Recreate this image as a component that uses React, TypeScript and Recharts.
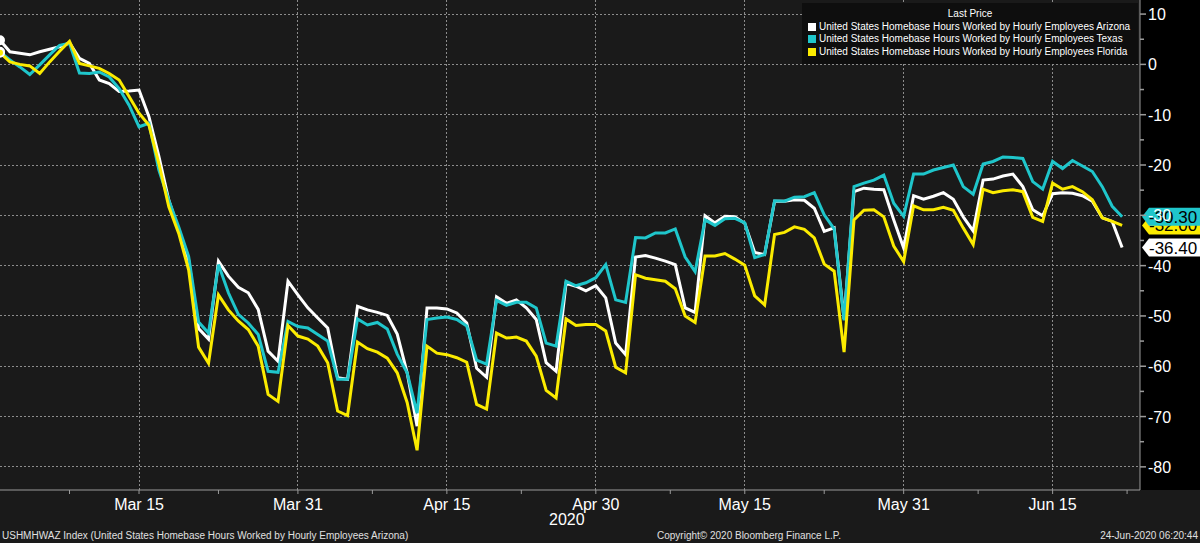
import React from 'react';
import {
  LineChart,
  Line,
  XAxis,
  YAxis,
  CartesianGrid,
  ReferenceDot,
  Legend,
} from 'recharts';

// daily values, Mar 1 2020 (day 0) .. Jun 22 2020 (day 113)
const arizona = [
  4.8, 2.5, 2.2, 1.9, 2.5, 3.0, 3.5, 4.3, 1.2, 0.2,
  -3.1, -3.8, -5.4, -5.3, -5.1, -10.4, -18.3, -27.0, -33.0, -38.9,
  -52.5, -54.6, -39.1, -42.1, -44.3, -45.4, -48.7, -57.0, -59.0, -43.1,
  -45.8, -48.4, -50.4, -52.4, -62.3, -62.6, -48.1, -48.8, -49.3, -49.9,
  -53.6, -61.3, -71.9, -48.4, -48.4, -48.6, -49.4, -51.4, -60.4, -62.2,
  -46.2, -47.5, -46.8, -48.4, -50.7, -59.3, -61.0, -43.5, -44.1, -45.0,
  -44.0, -46.4, -55.4, -57.7, -38.3, -38.0, -38.5, -39.1, -39.8, -48.4,
  -49.3, -30.1, -31.5, -30.2, -30.3, -31.6, -37.4, -37.8, -27.2, -27.2,
  -26.9, -27.0, -28.6, -33.2, -32.5, -50.6, -25.3, -24.6, -24.8, -24.9,
  -30.9, -36.5, -26.1, -26.8, -26.2, -25.5, -26.8, -30.3, -33.1, -23.0,
  -22.8, -22.2, -21.8, -24.3, -28.9, -30.1, -25.7, -25.5, -25.6, -26.1,
  -27.2, -30.5, -31.2, -36.4,
];

const texas = [
  2.5, 0.9, -0.5, -2.0, -0.1, 1.9, 3.8, 4.2, -1.7, -1.8,
  -1.5, -2.5, -4.8, -8.1, -12.4, -11.7, -21.0, -27.0, -32.3, -38.2,
  -51.2, -53.4, -39.8, -45.4, -49.7, -51.4, -53.7, -61.0, -61.2, -51.1,
  -52.1, -52.4, -53.7, -55.0, -62.6, -62.6, -50.6, -51.8, -51.3, -52.6,
  -57.6, -61.3, -69.3, -50.7, -50.4, -50.2, -50.7, -52.0, -58.8, -59.6,
  -46.9, -47.9, -47.3, -47.3, -48.4, -55.4, -56.0, -43.1, -44.0, -43.4,
  -42.4, -39.8, -46.8, -47.3, -34.4, -34.5, -33.5, -33.5, -32.7, -38.3,
  -41.2, -30.9, -32.0, -30.7, -30.6, -31.5, -38.4, -37.8, -27.1, -27.2,
  -26.4, -26.3, -25.5, -29.9, -32.7, -50.9, -24.3, -23.6, -23.0, -22.0,
  -27.6, -30.2, -21.8, -21.8, -21.0, -20.5, -20.0, -24.3, -25.8, -19.8,
  -19.3, -18.4, -18.5, -18.7, -23.3, -24.8, -19.3, -20.7, -19.1, -20.2,
  -21.3, -24.3, -28.2, -30.3,
];

const florida = [
  2.3, 0.5, 0.0, -0.3, -1.8, 0.5, 2.6, 4.6, 0.2, -0.3,
  -0.8, -1.8, -3.1, -6.4, -9.7, -12.1, -19.7, -28.3, -33.6, -40.9,
  -56.2, -59.4, -45.8, -48.8, -51.0, -52.7, -56.0, -65.6, -67.0, -51.9,
  -54.0, -54.6, -56.0, -59.3, -68.9, -69.8, -55.2, -56.5, -57.2, -58.4,
  -61.3, -67.2, -76.7, -56.0, -57.4, -57.7, -58.3, -59.2, -67.6, -68.5,
  -53.4, -54.4, -54.2, -55.0, -58.0, -64.8, -66.3, -50.6, -51.9, -51.7,
  -51.7, -53.0, -60.2, -61.3, -41.8, -42.5, -42.8, -43.1, -44.6, -50.0,
  -51.3, -38.1, -38.1, -37.6, -38.7, -39.9, -46.0, -47.8, -33.8, -33.4,
  -32.3, -32.8, -34.5, -39.7, -41.1, -57.2, -30.9, -29.0, -28.9, -30.3,
  -36.1, -39.2, -28.1, -28.9, -28.9, -28.4, -29.0, -32.5, -35.8, -24.8,
  -25.5, -25.1, -24.9, -25.3, -30.4, -31.2, -23.6, -24.8, -24.3, -25.3,
  -26.9, -30.5, -31.2, -32.0,
];

const xMajorDays = [14, 30, 45, 60, 75, 91, 106];
const xMajorLabels = ['Mar 15', 'Mar 31', 'Apr 15', 'Apr 30', 'May 15', 'May 31', 'Jun 15'];
const xMinorDays = [7, 22, 37.5, 52.5, 67.5, 83, 98.5, 113.5];
const yMajorTicks = [-80, -70, -60, -50, -40, -30, -20, -10, 0, 10];
const yMinorTicks = [-75, -65, -55, -45, -35, -25, -15, -5, 5];

const seriesNames = [
  'United States Homebase Hours Worked by Hourly Employees Arizona',
  'United States Homebase Hours Worked by Hourly Employees Texas',
  'United States Homebase Hours Worked by Hourly Employees Florida',
];

const WHITE = '#ffffff';
const CYAN = '#1fc6cb';
const YELLOW = '#fbeb00';
const GRID = '#8c8c8c';
const AXIS = '#9a9a9a';
const FONT = '"Liberation Sans", Arial, sans-serif';

const rows = arizona.map((v, i) => ({
  d: i,
  arizona: v,
  texas: texas[i],
  florida: florida[i],
}));

const XTick = (props: any) => {
  const { x, y, payload } = props;
  const idx = xMajorDays.indexOf(payload.value);
  if (idx < 0) return null;
  return (
    <text x={x} y={y + 14} textAnchor="middle" fill="#ffffff" fontSize={16} fontFamily={FONT}>
      {xMajorLabels[idx]}
    </text>
  );
};

const YTick = (props: any) => {
  const { x, y, payload } = props;
  const major = yMajorTicks.includes(payload.value);
  return (
    <g>
      <line x1={x} x2={x + (major ? 6 : 4)} y1={y} y2={y} stroke={AXIS} strokeWidth={1.5} />
      {major && (
        <text x={x + 8} y={y + 6} fill="#ffffff" fontSize={16} fontFamily={FONT}>
          {payload.value}
        </text>
      )}
    </g>
  );
};

const tag = (color: string, value: number) => (props: any) => {
  const { cx, cy } = props;
  const h = 9;
  return (
    <g>
      <polygon
        points={`${cx + 2},${cy} ${cx + 9},${cy - h} ${cx + 62},${cy - h} ${cx + 62},${cy + h} ${cx + 9},${cy + h}`}
        fill={color}
      />
      <text x={cx + 9} y={cy + 6} fill="#000000" fontSize={17} fontFamily={FONT}>
        {value.toFixed(2)}
      </text>
    </g>
  );
};

const renderLegend = () => (
  <div
    style={{
      background: '#0e0e0e',
      padding: '5px 6px 6px 6px',
      fontFamily: FONT,
      fontSize: 10,
      color: '#ffffff',
      lineHeight: '12.5px',
    }}
  >
    <div style={{ textAlign: 'center' }}>Last Price</div>
    {seriesNames.map((n, i) => (
      <div key={n} style={{ display: 'flex', alignItems: 'center' }}>
        <span
          style={{
            display: 'inline-block',
            width: 8,
            height: 8,
            marginRight: 3,
            background: [WHITE, CYAN, YELLOW][i],
          }}
        />
        {n}
      </div>
    ))}
  </div>
);

const App = () => {
  const last = rows.length - 1;
  return (
    <div
      style={{
        position: 'absolute',
        left: 0,
        top: 0,
        width: 1200,
        height: 543,
        background: '#1a1a1a',
        overflow: 'hidden',
        fontFamily: FONT,
      }}
    >
      <div style={{ position: 'absolute', left: 1140, top: 0, width: 60, height: 490, background: '#000' }} />
      <LineChart
        width={1200}
        height={543}
        data={rows}
        margin={{ top: 0, right: 0, bottom: 0, left: 0 }}
      >
        <CartesianGrid
          stroke={GRID}
          strokeWidth={1}
          strokeDasharray="2 2"
          shapeRendering="crispEdges"
          horizontalValues={yMajorTicks}
          verticalValues={xMajorDays}
        />
        <XAxis
          dataKey="d"
          type="number"
          domain={[0, 114.8]}
          ticks={[...xMajorDays, ...xMinorDays].sort((a, b) => a - b)}
          interval={0}
          height={53}
          stroke={AXIS}
          tickSize={4}
          tickLine={{ stroke: AXIS }}
          tick={<XTick />}
          allowDataOverflow
        />
        <YAxis
          orientation="right"
          width={60}
          domain={[-84.6, 12.8]}
          ticks={[...yMajorTicks, ...yMinorTicks].sort((a, b) => a - b)}
          interval={0}
          stroke={AXIS}
          tickLine={false}
          tickSize={0}
          tickMargin={0}
          tick={<YTick />}
          allowDataOverflow
        />
        <Legend
          layout="horizontal"
          verticalAlign="middle"
          align="center"
          content={renderLegend}
          wrapperStyle={{ position: 'absolute', left: 802, top: 3, width: 336 }}
        />
        <Line type="linear" dataKey="arizona" stroke={WHITE} strokeWidth={3} dot={false} isAnimationActive={false} />
        <Line type="linear" dataKey="texas" stroke={CYAN} strokeWidth={3} dot={false} isAnimationActive={false} />
        <Line type="linear" dataKey="florida" stroke={YELLOW} strokeWidth={3} dot={false} isAnimationActive={false} />
        <ReferenceDot x={114.8} y={arizona[last]} r={0} shape={tag(WHITE, arizona[last])} />
        <ReferenceDot x={114.8} y={florida[last]} r={0} shape={tag(YELLOW, florida[last])} />
        <ReferenceDot x={114.8} y={texas[last]} r={0} shape={tag(CYAN, texas[last])} />
      </LineChart>
      <div style={{ position: 'absolute', left: 549, top: 511, fontSize: 16, color: '#fff' }}>2020</div>
      <div style={{ position: 'absolute', left: 2, top: 530, fontSize: 10, color: '#e0e0e0', whiteSpace: 'nowrap' }}>
        USHMHWAZ Index (United States Homebase Hours Worked by Hourly Employees Arizona)
      </div>
      <div style={{ position: 'absolute', left: 657, top: 530, fontSize: 10, color: '#e0e0e0', whiteSpace: 'nowrap' }}>
        Copyright© 2020 Bloomberg Finance L.P.
      </div>
      <div style={{ position: 'absolute', right: 2, top: 530, fontSize: 10, color: '#e0e0e0', whiteSpace: 'nowrap' }}>
        24-Jun-2020 06:20:44
      </div>
    </div>
  );
};

export default App;
